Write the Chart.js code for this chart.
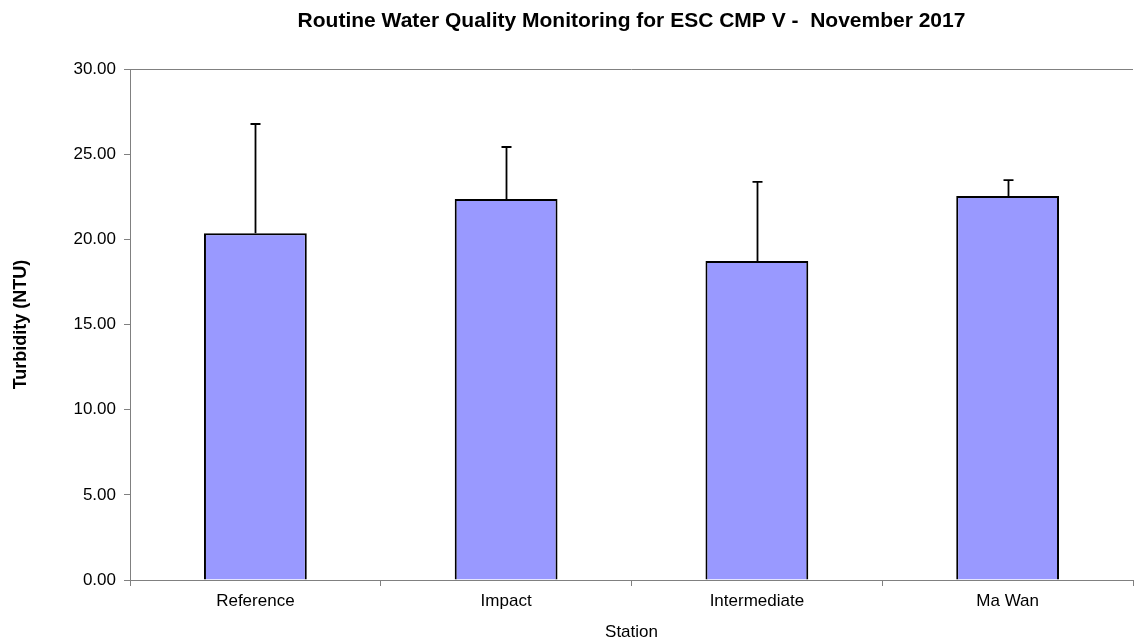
<!DOCTYPE html>
<html>
<head>
<meta charset="utf-8">
<script src="https://cdn.jsdelivr.net/npm/chart.js@4/dist/chart.umd.min.js"></script>
<style>
  html, body { margin: 0; padding: 0; background: #fff; }
  #wrap { width: 1136px; height: 643px; }
</style>
</head>
<body>
<div id="wrap"><canvas id="chart" width="1136" height="643"></canvas></div>
<script>
const stations = ['Reference', 'Impact', 'Intermediate', 'Ma Wan'];
const turbidity = [20.35, 22.37, 18.73, 22.54];
const errorPlus = [6.42, 3.05, 4.64, 0.94];
const chartTitle = 'Routine Water Quality Monitoring for ESC CMP V -  November 2017';

const FONT = 'Arial, "Liberation Sans", sans-serif';

// title centred over the plot area, upper error whiskers, top border line
const extrasPlugin = {
  id: 'extras',
  afterDatasetsDraw(chart) {
    const { ctx, chartArea } = chart;
    const meta = chart.getDatasetMeta(0);
    const y = chart.scales.y;
    ctx.save();
    ctx.strokeStyle = '#808080';
    ctx.lineWidth = 1;
    ctx.beginPath();
    ctx.moveTo(chartArea.left, chartArea.top + 0.5);
    ctx.lineTo(chartArea.right, chartArea.top + 0.5);
    ctx.stroke();

    ctx.strokeStyle = '#000';
    ctx.lineWidth = 1.8;
    meta.data.forEach((bar, i) => {
      const x = Math.round(bar.x) + 0.5;
      const yTop = y.getPixelForValue(turbidity[i] + errorPlus[i]);
      const yBase = y.getPixelForValue(turbidity[i]);
      ctx.beginPath();
      ctx.moveTo(x, yBase);
      ctx.lineTo(x, yTop);
      ctx.moveTo(x - 5, yTop);
      ctx.lineTo(x + 5, yTop);
      ctx.stroke();
    });

    ctx.fillStyle = '#000';
    ctx.font = 'bold 21px ' + FONT;
    ctx.textAlign = 'center';
    ctx.textBaseline = 'middle';
    ctx.fillText(chartTitle, (chartArea.left + chartArea.right) / 2, 21);
    ctx.restore();
  },
};

new Chart(document.getElementById('chart'), {
  type: 'bar',
  data: {
    labels: stations,
    datasets: [
      {
        label: 'Turbidity',
        data: turbidity,
        backgroundColor: '#9999ff',
        borderColor: '#000',
        borderWidth: 2,
        categoryPercentage: 1,
        barPercentage: 0.41,
      },
    ],
  },
  options: {
    responsive: false,
    animation: false,
    layout: { padding: { left: 0, right: 3, top: 69, bottom: 0 } },
    plugins: {
      legend: { display: false },
      tooltip: { enabled: false },
      title: { display: false },
    },
    scales: {
      x: {
        grid: { display: true, drawOnChartArea: false, offset: true, color: '#808080', tickLength: 6 },
        border: { color: '#808080', width: 1 },
        ticks: { color: '#000', font: { family: FONT, size: 17 }, padding: 5 },
        title: {
          display: true,
          text: 'Station',
          color: '#000',
          font: { family: FONT, size: 17 },
          padding: { top: 3, bottom: 0 },
        },
        afterFit: (scale) => { scale.height = 63; },
      },
      y: {
        min: 0,
        max: 30,
        grid: { display: true, drawOnChartArea: false, color: '#808080', tickLength: 6 },
        border: { color: '#808080', width: 1 },
        ticks: {
          stepSize: 5,
          color: '#000',
          font: { family: FONT, size: 17 },
          padding: 8,
          callback: (v) => Number(v).toFixed(2),
        },
        title: {
          display: true,
          text: 'Turbidity (NTU)',
          color: '#000',
          font: { family: FONT, size: 18, weight: 'bold' },
          padding: { top: 10, bottom: 20 },
        },
        afterFit: (scale) => { scale.width = 130; },
      },
    },
  },
  plugins: [extrasPlugin],
});
</script>
</body>
</html>
